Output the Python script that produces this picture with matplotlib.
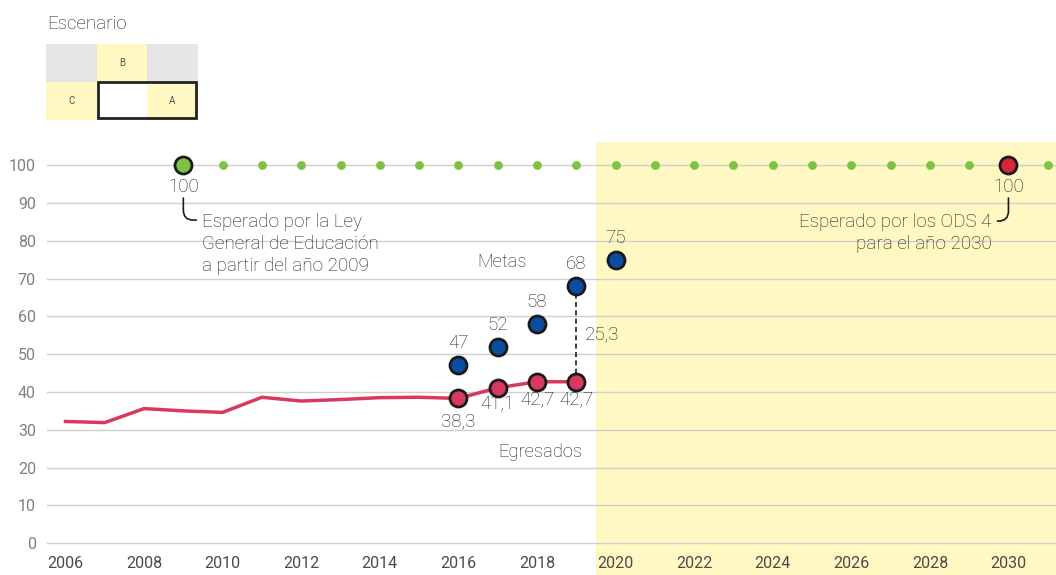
"""Escenario chart: egresados vs metas, with expected values (Ley / ODS 4)."""
import matplotlib
matplotlib.use("Agg")
import matplotlib.pyplot as plt
from matplotlib.patches import Rectangle
from matplotlib.transforms import offset_copy

plt.rcParams["font.family"] = ["Roboto", "DejaVu Sans"]
plt.rcParams["font.weight"] = "light"

# Data
egr_years = [2006, 2007, 2008, 2009, 2010, 2011, 2012, 2013, 2014, 2015, 2016, 2017, 2018, 2019]
egr_values = [32.2, 31.9, 35.6, 35.0, 34.6, 38.6, 37.6, 38.0, 38.5, 38.6, 38.3, 41.1, 42.7, 42.7]
egr_labeled_years = [2016, 2017, 2018, 2019]

meta_years = [2016, 2017, 2018, 2019, 2020]
meta_values = [47, 52, 58, 68, 75]

ley_year = 2009
ods_year = 2030
expected_value = 100
expected_years = list(range(2010, 2032))

gap_year = 2019
gap_value = 25.3

proj_start = 2019.5
x_ticks = list(range(2006, 2031, 2))
y_ticks = list(range(0, 101, 10))

# Colours
GREEN = "#7dc242"
BLUE = "#0b4da2"
PINK = "#d9385f"
RED = "#d7263a"
YELLOW = "#fff8c2"
GRID = "#cfcfcf"
TXT = "#1e1e1e"

W, H = 1056, 575
fig = plt.figure(figsize=(W / 100, H / 100), dpi=100)
ax = fig.add_axes([47 / W, 0, (W - 47) / W, (H - 142) / H])
ax.set_xlim(2005.53, 2031.21)
ax.set_ylim(-8.4, 106.1)

ax.axvspan(proj_start, 2031.21, color=YELLOW, zorder=0, lw=0)
for v in y_ticks:
    ax.axhline(v, color=GRID, lw=1, zorder=1)

for s in ax.spines.values():
    s.set_visible(False)
ax.set_yticks(y_ticks)
ax.set_xticks(x_ticks)
ax.tick_params(axis="y", length=0, pad=8, labelsize=11.5, labelcolor="#808080")
ax.tick_params(axis="x", length=0, pad=-14, labelsize=11.5, labelcolor="#4a4a4a")
for lbl in ax.get_xticklabels() + ax.get_yticklabels():
    lbl.set_fontweight("normal")

# expected (green dots at 100)
ax.scatter(expected_years, [expected_value] * len(expected_years), s=40, color=GREEN, lw=0, zorder=3)
ax.scatter([ley_year], [expected_value], s=150, color=GREEN, edgecolor="#1a1a1a", lw=2, zorder=4)
ax.scatter([ods_year], [expected_value], s=150, color=RED, edgecolor="#1a1a1a", lw=2, zorder=4)

# egresados line
ax.plot(egr_years, egr_values, color=PINK, lw=2.5, zorder=3)
lab_vals = [v for y, v in zip(egr_years, egr_values) if y in egr_labeled_years]
ax.scatter(egr_labeled_years, lab_vals, s=150, color=PINK, edgecolor="#1a1a1a", lw=2, zorder=5)

# metas
ax.scatter(meta_years, meta_values, s=150, color=BLUE, edgecolor="#1a1a1a", lw=2, zorder=5)

# gap between meta and egresados in 2019
ax.plot([gap_year, gap_year], [egr_values[-1], meta_values[meta_years.index(gap_year)]],
        color="#1a1a1a", lw=1.2, ls=(0, (3, 2)), zorder=4)
ax.annotate(f"{gap_value}".replace(".", ","), (gap_year, egr_values[-1] + gap_value / 2),
            xytext=(9, 0), textcoords="offset pixels", ha="left", va="center",
            fontsize=13.5, color=TXT)

# value labels
for yr, v in zip(meta_years, meta_values):
    ax.annotate(f"{v}", (yr, v), xytext=(0, 22), textcoords="offset pixels",
                ha="center", va="center", fontsize=13.5, color=TXT)
egr_offsets = [-23, -16, -17, -17]
for yr, v, dy in zip(egr_labeled_years, lab_vals, egr_offsets):
    ax.annotate(f"{v}".replace(".", ","), (yr, v), xytext=(0, dy), textcoords="offset pixels",
                ha="center", va="center", fontsize=13.5, color=TXT)
for yr in (ley_year, ods_year):
    ax.annotate(f"{expected_value}", (yr, expected_value), xytext=(0, -22), textcoords="offset pixels",
                ha="center", va="center", fontsize=13.5, color=TXT)

# series names
ax.text(2017.11, 74.3, "Metas", ha="center", va="center", fontsize=13.2, color=TXT)
ax.text(2018.08, 24.1, "Egresados", ha="center", va="center", fontsize=13.2, color=TXT)

# expected annotations with curved connectors
tr_ley = offset_copy(ax.transData, fig, x=0, y=-33, units="dots")
ax.annotate("", xy=(ley_year, expected_value), xycoords=tr_ley, xytext=(13, -22),
            textcoords="offset pixels",
            arrowprops=dict(arrowstyle="-", color="#1a1a1a", lw=1.2, shrinkA=0, shrinkB=0,
                            connectionstyle="angle,angleA=0,angleB=90,rad=10"))
ax.annotate("Esperado por la Ley\nGeneral de Educación\na partir del año 2009",
            (ley_year, expected_value), xytext=(19, -48), textcoords="offset pixels",
            ha="left", va="top", fontsize=13.6, color=TXT, linespacing=1.3)

tr_ods = offset_copy(ax.transData, fig, x=0, y=-33, units="dots")
ax.annotate("", xy=(ods_year, expected_value), xycoords=tr_ods, xytext=(-11, -23),
            textcoords="offset pixels",
            arrowprops=dict(arrowstyle="-", color="#1a1a1a", lw=1.2, shrinkA=0, shrinkB=0,
                            connectionstyle="angle,angleA=0,angleB=90,rad=10"))
ax.annotate("Esperado por los ODS 4\npara el año 2030",
            (ods_year, expected_value), xytext=(-17, -48), textcoords="offset pixels",
            ha="right", va="top", fontsize=13.6, color=TXT, linespacing=1.3,
            multialignment="right")

# scenario selector
fig.text(47 / W, 1 - 24 / H, "Escenario", ha="left", va="center", fontsize=13.5, color=TXT)
sax = fig.add_axes([46 / W, 1 - 119.5 / H, 151.5 / W, 76 / H])
sax.set_xlim(0, 3)
sax.set_ylim(0, 2)
sax.axis("off")
cells = [(0, 1, "#e6e6e8", ""), (1, 1, YELLOW, "B"), (2, 1, "#e6e6e8", ""),
         (0, 0, YELLOW, "C"), (1, 0, "white", ""), (2, 0, YELLOW, "A")]
for cx, cy, col, lab in cells:
    sax.add_patch(Rectangle((cx, cy), 1, 1, facecolor=col, edgecolor="none"))
    if lab:
        sax.text(cx + 0.5, cy + 0.5, lab, ha="center", va="center", fontsize=7,
                 color="#555555", fontweight="normal")
sax.add_patch(Rectangle((1.02, 0.03), 1.96, 0.97, facecolor="none", edgecolor="#222222", lw=2))

fig.savefig("out.png", dpi=100)
